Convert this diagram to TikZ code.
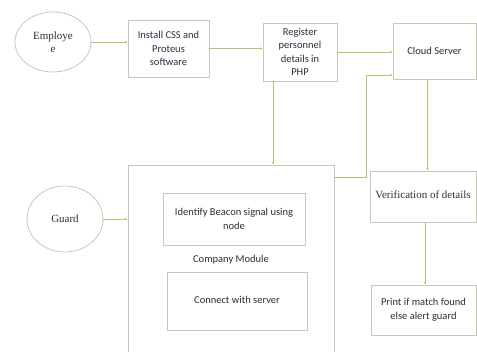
\documentclass[tikz,border=0pt]{standalone}
\usepackage{fontspec}
\setmainfont{Liberation Serif}
\newfontfamily\boxfont{Carlito}
\usetikzlibrary{shapes.geometric,arrows.meta}
\definecolor{linegreen}{RGB}{165,205,110}
\definecolor{boxgrey}{RGB}{196,201,186}
\definecolor{txtgrey}{RGB}{45,45,60}
\begin{document}
\begin{tikzpicture}[x=1pt,y=-1pt]
\tikzset{box/.style={draw=boxgrey,line width=0.8pt,rectangle,align=center,inner sep=2pt,text=txtgrey,font=\boxfont\fontsize{10.5}{13.5}\selectfont},
  oval/.style={draw=boxgrey,line width=0.8pt,ellipse,inner sep=0pt,align=center,text=txtgrey,font=\fontsize{11}{13.5}\selectfont},
  arr/.style={draw=linegreen,line width=0.8pt,-{Latex[length=2.5pt,width=2.5pt]}}};
\useasboundingbox (0,0) rectangle (477,352);
\clip (0,0) rectangle (477,352);
\node[oval,minimum width=76pt,minimum height=60pt] (emp) at (53,42) {Employe\\e};
\node[box,minimum width=81pt,minimum height=57pt] (inst) at (168.5,48.5) {Install CSS and\\Proteus\\software};
\node[box,minimum width=74pt,minimum height=58pt] (reg) at (300,52) {Register\\personnel\\details in\\PHP};
\node[box,minimum width=83pt,minimum height=56pt] (cloud) at (434.5,51) {Cloud Server};
\node[box,minimum width=206pt,minimum height=200pt] (comp) at (231,265) {};
\node[oval,minimum width=76pt,minimum height=66pt] (guard) at (65,219) {Guard};
\node[box,minimum width=142pt,minimum height=52pt] (ident) at (234,219) {Identify Beacon signal using\\node};
\node[text=txtgrey,font=\boxfont\fontsize{10.5}{13.5}\selectfont] (cmod) at (231,260) {Company Module};
\node[box,minimum width=140pt,minimum height=58pt] (conn) at (237,301) {\raisebox{3pt}{Connect with server}};
\node[box,minimum width=106pt,minimum height=51pt,font=\fontsize{11}{13.5}\selectfont] (verif) at (423,196.5) {\raisebox{3pt}{Verification of details}};
\node[box,minimum width=105pt,minimum height=50pt] (print) at (423.5,310) {Print if match found\\else alert guard};
\draw[arr] (emp.east) -- (emp.east -| inst.west);
\draw[arr] (inst.east) -- (inst.east -| reg.west);
\draw[arr] (reg.east) -- (reg.east -| cloud.west);
\draw[arr] ([xshift=-27pt]reg.south) -- ([xshift=-27pt]reg.south |- comp.north);
\coordinate (bend) at (366,177);
\draw[arr] (comp.east |- bend) -- (bend) -- (bend |- 0,75) -- (cloud.west |- 0,75);
\draw[arr] ([xshift=-7pt]cloud.south) -- ([xshift=-7pt]cloud.south |- verif.north);
\draw[arr] ([xshift=2pt]verif.south) -- ([xshift=2pt]verif.south |- print.north);
\draw[arr] (guard.east) -- (guard.east -| comp.west);
\end{tikzpicture}
\end{document}
